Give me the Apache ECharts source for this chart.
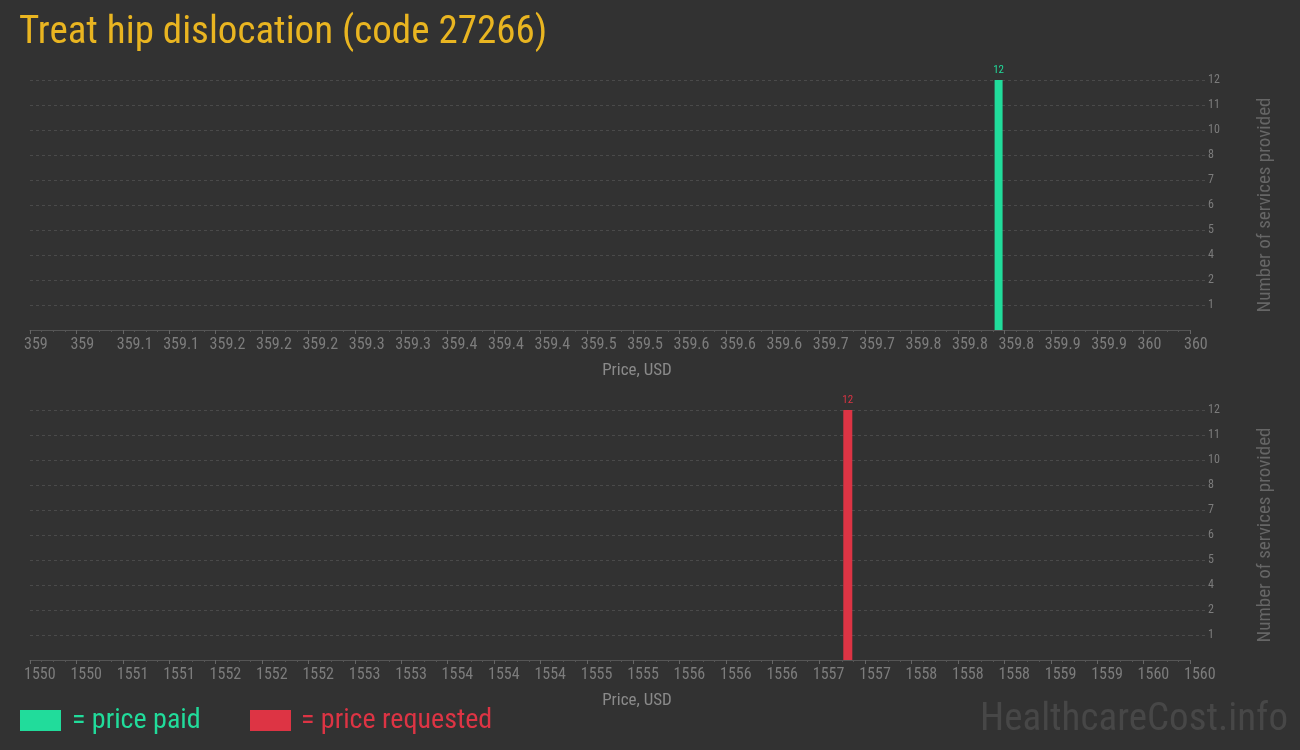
<!DOCTYPE html>
<html>
<head>
<meta charset="utf-8">
<script src="https://cdn.jsdelivr.net/npm/echarts@6/dist/echarts.min.js"></script>
<style>
html,body{margin:0;padding:0;background:#323232;}
#c{width:1300px;height:750px;}
</style>
</head>
<body>
<div id="c"></div>
<script>
// Data
const titleText = 'Treat hip dislocation (code 27266)';
const paidPrices = [359.835];
const paidCounts = [12];
const requestedPrices = [1557.05];
const requestedCounts = [12];
const paidAxis = { min: 359, max: 360, interval: 0.04 };
const requestedAxis = { min: 1550, max: 1560, interval: 0.4 };
const countAxis = { min: 0, max: 12, interval: 1.2 };
const legendLabels = ['= price paid', '= price requested'];
const xAxisName = 'Price, USD';
const yAxisName = 'Number of services provided';
const watermark = 'HealthcareCost.info';

const GREEN = '#21dc9b';
const RED = '#dd3444';
const COND = '"Roboto Condensed","Liberation Sans Narrow","DejaVu Sans Condensed",Roboto,sans-serif';
const TITLEF = '"Roboto Condensed","Liberation Sans Narrow","DejaVu Sans Condensed",Roboto,sans-serif';

function pairs(xs, ys){ return xs.map((x,i)=>[x, ys[i]]); }

function xAxisCfg(gridIndex, ax, fmt){
  return {
    type:'value', gridIndex, min: ax.min, max: ax.max, interval: ax.interval,
    name: xAxisName, nameLocation:'middle', nameGap: 32,
    nameTextStyle:{color:'#8a8a8a', fontSize:17, fontFamily:COND, padding:[0,0,0,54]},
    axisLine:{show:true, lineStyle:{color:'#555', width:1}},
    axisTick:{show:true, length:4, lineStyle:{color:'#666'}},
    minorTick:{show:true, splitNumber:4, length:2, lineStyle:{color:'#555'}},
    splitLine:{show:false},
    axisLabel:{color:'#7c7c7c', fontSize:16, fontFamily:COND, margin:7, formatter: fmt, align:'left', padding:[0,0,0,-6]}
  };
}
function yAxisCfg(gridIndex){
  return {
    type:'value', gridIndex, position:'right', min: countAxis.min, max: countAxis.max, interval: countAxis.interval,
    name: yAxisName, nameLocation:'middle', nameGap: 66, nameRotate: 90,
    nameTextStyle:{color:'#666', fontSize:19, fontFamily:COND},
    axisLine:{show:false},
    axisTick:{show:true, inside:false, length:15, lineStyle:{color:'#4a4a4a', type:[3,3]}},
    splitLine:{show:true, lineStyle:{color:'#4a4a4a', type:[3,3], width:1}},
    axisLabel:{color:'#7c7c7c', fontSize:12, fontFamily:COND, margin:18, showMinLabel:false,
      formatter: v => v === 0 ? '' : String(Math.round(v))}
  };
}

const chart = echarts.init(document.getElementById('c'), null, {renderer:'canvas'});
chart.setOption({
  backgroundColor:'#323232',
  animation:false,
  title:{text:titleText, left:14, top:9, textStyle:{color:'#e9b521', fontSize:39, fontWeight:'normal', fontFamily:TITLEF}},
  grid:[
    {left:30, top:80, width:1160, height:250},
    {left:30, top:410, width:1160, height:250}
  ],
  xAxis:[
    xAxisCfg(0, paidAxis, v => String(Number(v.toFixed(1)))),
    xAxisCfg(1, requestedAxis, v => String(Math.round(v)))
  ],
  yAxis:[yAxisCfg(0), yAxisCfg(1)],
  series:[
    {type:'bar', xAxisIndex:0, yAxisIndex:0, data:pairs(paidPrices, paidCounts), barWidth:8,
      itemStyle:{color:GREEN},
      label:{show:true, position:'top', color:GREEN, fontSize:11, fontFamily:COND, distance:4}},
    {type:'bar', xAxisIndex:1, yAxisIndex:1, data:pairs(requestedPrices, requestedCounts), barWidth:9,
      itemStyle:{color:RED},
      label:{show:true, position:'top', color:RED, fontSize:11, fontFamily:COND, distance:4}}
  ],
  graphic:[
    {type:'rect', left:20, top:710, shape:{width:41, height:21}, style:{fill:GREEN}},
    {type:'text', left:72, top:707, style:{text:legendLabels[0], fill:GREEN, fontSize:28, fontFamily:TITLEF}},
    {type:'rect', left:250, top:710, shape:{width:41, height:21}, style:{fill:RED}},
    {type:'text', left:301, top:707, style:{text:legendLabels[1], fill:RED, fontSize:28, fontFamily:TITLEF}},
    {type:'text', right:12, top:701, style:{text:watermark, fill:'#474747', fontSize:39, fontFamily:TITLEF}}
  ]
});
</script>
</body>
</html>
